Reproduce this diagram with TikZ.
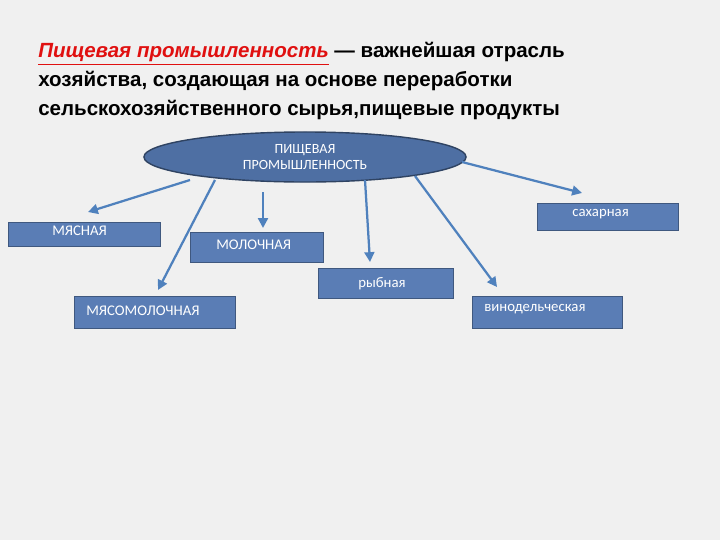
\documentclass[tikz,border=0pt]{standalone}
\usepackage{fontspec}
\setmainfont{Liberation Sans}
\newfontfamily\carl{Carlito}
\usetikzlibrary{shapes.geometric,arrows.meta}
\definecolor{boxblue}{HTML}{5A7DB5}
\definecolor{ellblue}{HTML}{4E6FA3}
\definecolor{arrblue}{HTML}{4F81BD}
\definecolor{titlered}{HTML}{E01010}
\begin{document}
\begin{tikzpicture}[x=0.025cm,y=-0.025cm,
  bx/.style={draw=boxblue!70!black,fill=boxblue,inner sep=0pt},
  arr/.style={draw=arrblue,line width=1.6pt,-{Triangle[length=7pt,width=7pt]}}]
\useasboundingbox[fill=gray!12] (0,0) rectangle (720,540);
\node[anchor=north west,align=left,font=\bfseries\fontsize{14.6}{20.5}\selectfont,inner sep=0pt] (t) at (38,42)
 {{\color{titlered}\itshape\underline{Пищевая промышленность}} — важнейшая отрасль\\
 хозяйства, создающая на основе переработки\\
 сельскохозяйственного сырья,пищевые продукты};
\node[ellipse,draw=ellblue!60!black,line width=1pt,fill=ellblue,minimum width=8.05cm,minimum height=1.05cm,text=white,align=center,font=\carl\fontsize{10}{12}\selectfont] (e) at (305,157) {ПИЩЕВАЯ\\ПРОМЫШЛЕННОСТЬ};
\newcommand\mybox[6]{\node[bx,minimum width=#3*0.025cm,minimum height=#4*0.025cm,anchor=north west] (#1) at (#2) {};
 \node[anchor=north west,text=white,font=\carl\fontsize{10.5}{12}\selectfont,inner sep=0pt] at (#5) {#6};}
\mybox{m}{8,222}{152}{24}{52,226}{МЯСНАЯ}
\mybox{mo}{190,232}{133}{30}{216,240}{МОЛОЧНАЯ}
\mybox{r}{318,268}{135}{30}{358,277}{рыбная}
\mybox{s}{537,203}{141}{27}{572,209}{сахарная}
\mybox{mm}{74,296}{161}{32}{86,306}{МЯСОМОЛОЧНАЯ}
\mybox{v}{472,296}{150}{32}{484,304}{винодельческая}
\coordinate (a1) at (190,180); \coordinate (b1) at (88,212);
\coordinate (a2) at (215,180); \coordinate (b2) at (158,290);
\coordinate (a3) at (263,192); \coordinate (b3) at (263,228);
\coordinate (a4) at (365,180); \coordinate (b4) at (370,262);
\coordinate (a5) at (415,176); \coordinate (b5) at (497,287);
\coordinate (a6) at (462,162); \coordinate (b6) at (582,193);
\foreach \i in {1,...,6} \draw[arr] (a\i) -- (b\i);
\end{tikzpicture}
\end{document}
